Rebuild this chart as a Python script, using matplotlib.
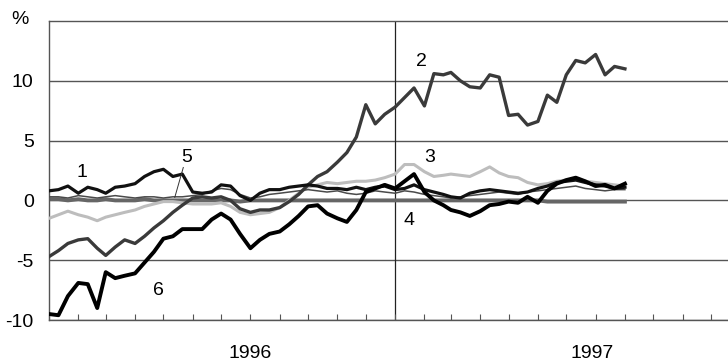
import numpy as np
import pandas as pd
import matplotlib
matplotlib.use("Agg")
import matplotlib.pyplot as plt
import matplotlib.dates as mdates

plt.rcParams['font.family'] = ['Liberation Sans', 'DejaVu Sans']

# sample dates: 1st, 11th and 21st of each month, Jan 1996 .. Sep 1997
dates = pd.to_datetime([f"{y}-{m:02d}-{d:02d}" for y in (1996, 1997)
                        for m in range(1, 13) for d in (1, 11, 21)
                        if (y, m) <= (1997, 8)] + ["1997-09-01"])

s1 = [0.8, 0.9, 1.2, 0.6, 1.1, 0.9, 0.6, 1.1, 1.2, 1.4, 2.0, 2.4, 2.6, 2.0, 2.2,
      0.7, 0.6, 0.7, 1.3, 1.2, 0.4, 0.0, 0.6, 0.9, 0.9, 1.1, 1.2, 1.3, 1.2, 1.0,
      1.0, 0.9, 1.1, 0.9, 1.1, 1.2, 0.9, 1.0, 1.3, 0.9, 0.7, 0.5, 0.3, 0.2, 0.6,
      0.8, 0.9, 0.8, 0.7, 0.6, 0.7, 1.0, 1.2, 1.5, 1.6, 1.7, 1.5, 1.3, 1.2, 1.0, 1.1]
s2 = [-4.7, -4.2, -3.6, -3.3, -3.2, -4.0, -4.6, -3.9, -3.3, -3.6, -3.0, -2.3, -1.7,
      -1.0, -0.4, 0.2, 0.3, 0.2, 0.3, 0.0, -0.7, -1.0, -0.8, -0.8, -0.6, -0.1, 0.5,
      1.3, 2.0, 2.4, 3.2, 4.0, 5.3, 8.0, 6.4, 7.2, 7.8, 8.6, 9.4, 7.9, 10.6, 10.5,
      10.7, 10.0, 9.5, 9.4, 10.5, 10.3, 7.1, 7.2, 6.3, 6.6, 8.8, 8.2, 10.5, 11.7,
      11.5, 12.2, 10.5, 11.2, 11.0]
s3 = [-1.5, -1.2, -0.9, -1.2, -1.4, -1.7, -1.4, -1.2, -1.0, -0.8, -0.5, -0.3, -0.1,
      -0.1, -0.2, -0.3, -0.3, -0.3, -0.2, -0.5, -1.0, -1.2, -1.1, -1.0, -0.6, 0.0,
      0.6, 1.1, 1.3, 1.5, 1.4, 1.5, 1.6, 1.6, 1.7, 1.9, 2.2, 3.0, 3.0, 2.4, 2.0, 2.1,
      2.2, 2.1, 2.0, 2.4, 2.8, 2.3, 2.0, 1.9, 1.5, 1.3, 1.4, 1.6, 1.7, 1.8, 1.6, 1.5,
      1.4, 1.3, 1.2]
s4 = [0.1, 0.1, 0.0, 0.1, 0.0, 0.0, 0.1, 0.0, 0.0, 0.0, 0.1, 0.0, 0.0, 0.0, 0.0,
      0.0, 0.0, 0.0, 0.0, 0.0, -0.1, 0.0, 0.0, 0.0, 0.0, 0.0, 0.0, 0.0, 0.0, 0.0,
      0.0, 0.0, 0.0, 0.0, 0.0, 0.0, 0.0, 0.0, 0.0, 0.0, 0.0, 0.0, 0.0, 0.0, 0.0,
      0.0, 0.0, 0.0, 0.0, 0.0, 0.0, 0.0, -0.1, -0.1, -0.1, -0.1, -0.1, -0.1, -0.1,
      -0.1, -0.1]
s5 = [0.3, 0.3, 0.2, 0.4, 0.3, 0.2, 0.3, 0.4, 0.3, 0.2, 0.3, 0.3, 0.2, 0.3, 0.3,
      0.4, 0.5, 0.8, 1.0, 0.9, 0.5, 0.2, 0.3, 0.5, 0.6, 0.7, 0.8, 0.9, 0.8, 0.7,
      0.8, 0.6, 0.5, 0.6, 0.8, 0.7, 0.6, 0.8, 0.7, 0.5, 0.4, 0.3, 0.2, 0.3, 0.4,
      0.5, 0.6, 0.7, 0.6, 0.5, 0.7, 0.8, 0.9, 1.0, 1.1, 1.2, 1.0, 0.9, 0.8, 0.9, 0.9]
s6 = [-9.5, -9.6, -8.0, -6.9, -7.0, -9.0, -6.0, -6.5, -6.3, -6.1, -5.2, -4.3, -3.2,
      -3.0, -2.4, -2.4, -2.4, -1.6, -1.1, -1.6, -2.8, -4.0, -3.3, -2.8, -2.6, -2.0,
      -1.3, -0.5, -0.4, -1.1, -1.5, -1.8, -0.8, 0.7, 1.0, 1.3, 1.0, 1.6, 2.2, 0.7,
      0.0, -0.4, -0.8, -1.0, -1.3, -0.9, -0.4, -0.3, -0.1, -0.2, 0.3, -0.2, 0.8,
      1.4, 1.7, 1.9, 1.6, 1.2, 1.3, 1.0, 1.4]

yticks = [-10, -5, 0, 5, 10]
years = ["1996", "1997"]

fig = plt.figure(figsize=(7.28, 3.62), dpi=100)
ax = fig.add_axes([0.0673, 0.116, 0.9327, 0.826])

for v in yticks:
    ax.axhline(v, color='#555555', lw=1.0, zorder=1)
ax.axvline(pd.Timestamp("1997-01-01"), color='#222222', lw=0.9, zorder=1)

ax.plot(dates, s4, color='#666666', lw=2.8, zorder=2)
ax.plot(dates, s3, color='#bdbdbd', lw=2.2, zorder=3)
ax.plot(dates, s5, color='#4a4a4a', lw=1.1, zorder=3)
ax.plot(dates, s2, color='#3a3a3a', lw=2.4, zorder=4)
ax.plot(dates, s1, color='#111111', lw=2.3, zorder=5)
ax.plot(dates, s6, color='#000000', lw=2.8, zorder=6)

ax.set_xlim(pd.Timestamp("1996-01-01"), pd.Timestamp("1997-12-19"))
ax.set_ylim(-10, 15)
ax.set_yticks(yticks)
ax.set_yticklabels([str(v) for v in yticks], fontsize=14)
ax.tick_params(axis='y', length=0, pad=11)
ax.xaxis.set_major_locator(mdates.MonthLocator())
ax.xaxis.set_major_formatter(plt.NullFormatter())
ax.tick_params(axis='x', direction='in', length=4, color='#555555')

ax.spines['right'].set_visible(False)
for sp in ['left', 'bottom', 'top']:
    ax.spines[sp].set_color('#555555')
    ax.spines[sp].set_linewidth(1.0)

fs = 14
ax.text(pd.Timestamp("1996-02-05"), 2.3, "1", fontsize=fs, ha='center', va='center')
ax.text(pd.Timestamp("1997-01-29"), 11.6, "2", fontsize=fs, ha='center', va='center')
ax.text(pd.Timestamp("1997-02-07"), 3.6, "3", fontsize=fs, ha='center', va='center')
ax.text(pd.Timestamp("1997-01-16"), -1.7, "4", fontsize=fs, ha='center', va='center')
ax.text(pd.Timestamp("1996-05-26"), 3.6, "5", fontsize=fs, ha='center', va='center')
ax.text(pd.Timestamp("1996-04-26"), -7.5, "6", fontsize=fs, ha='center', va='center')
ax.plot([pd.Timestamp("1996-05-22"), pd.Timestamp("1996-05-13")], [2.75, 0.25],
        color='#333333', lw=0.7, zorder=7)

fig.text(20 / 728, 1 - 20 / 362, "%", fontsize=14, ha='center', va='center')
fig.text(250 / 728, 1 - 353 / 362, years[0], fontsize=14, ha='center', va='center')
fig.text(592 / 728, 1 - 353 / 362, years[1], fontsize=14, ha='center', va='center')

fig.savefig("out.png", dpi=100)
